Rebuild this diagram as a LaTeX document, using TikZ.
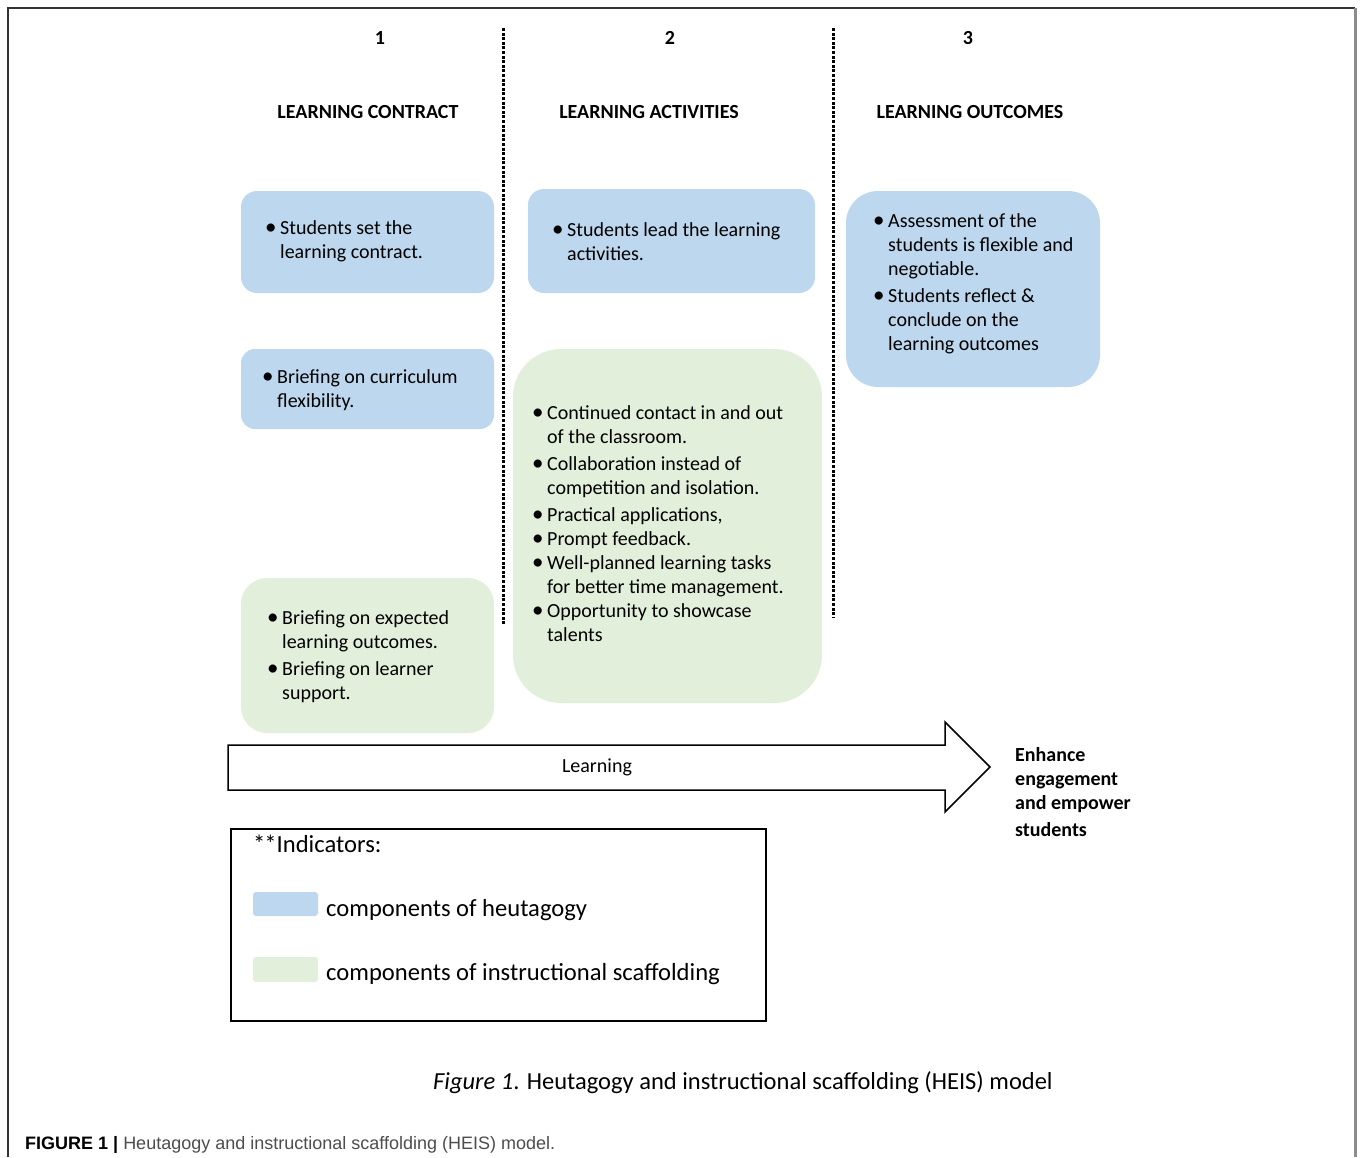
\documentclass[tikz,border=0pt]{standalone}
\usepackage{fontspec}
\setmainfont{Carlito}
\newfontfamily\capfont{Liberation Sans}
\definecolor{heutblue}{HTML}{BDD7EE}
\definecolor{scafgreen}{HTML}{E2EFDA}
\definecolor{capgray}{HTML}{4D4D4D}
\newcommand{\bodyfont}{\fontsize{20}{24}\selectfont}
\newcommand{\bul}{\smash{\raisebox{-0.8pt}{\fontsize{23}{24}\selectfont\textbullet}}}

\begin{document}
\begin{tikzpicture}[x=1pt,y=-1pt,
  hbox/.style={fill=heutblue,inner sep=0pt},
  sbox/.style={fill=scafgreen,inner sep=0pt},
  txt/.style={anchor=base west,inner sep=0pt,font=\bodyfont},
  head/.style={inner sep=0pt,font=\fontsize{20}{24}\selectfont\bfseries},
  divider/.style={line width=3pt,dash pattern=on 3pt off 1.6pt},
  legtxt/.style={anchor=base west,inner sep=0pt,font=\fontsize{24.6}{28}\selectfont}]

  \useasboundingbox (0,0) rectangle (1360,1157);

  \draw[line width=1.2pt,black!80] (8,1157) -- (8,8) -- (1355,8);
  \draw[line width=2.5pt,black!45] (1355.5,8) -- (1355.5,1157);

  \node[head] (n1) at (380,38) {1};
  \node[head] (n2) at (670,38) {2};
  \node[head] (n3) at (968,38) {3};
  \node[head] (h1) at (368,112) {LEARNING CONTRACT};
  \node[head] (h2) at (649,112) {LEARNING ACTIVITIES};
  \node[head] (h3) at (970,112) {LEARNING OUTCOMES};

  \coordinate (s1a) at (503,28);
  \coordinate (s1b) at (503,625);
  \coordinate (s2a) at (833,28);
  \coordinate (s2b) at (833,617);
  \draw[divider] (s1a) -- (s1b);
  \draw[divider] (s2a) -- (s2b);

  \node[hbox,rounded corners=16pt,minimum width=253pt,minimum height=102pt] (b1) at (367.5,242) {};
  \node[hbox,rounded corners=14pt,minimum width=253pt,minimum height=80pt] (b2) at (367.5,389) {};
  \node[sbox,rounded corners=26pt,minimum width=253pt,minimum height=155pt] (b3) at (367.5,655.5) {};
  \node[hbox,rounded corners=16pt,minimum width=287pt,minimum height=104pt] (b4) at (671.5,241) {};
  \node[sbox,rounded corners=48pt,minimum width=309pt,minimum height=354pt] (b5) at (667.5,526) {};
  \node[hbox,rounded corners=32pt,minimum width=254pt,minimum height=196pt] (b6) at (973,289) {};

  \node[txt] (t1) at (265,234) {\begin{tabular}[t]{@{}p{15pt}@{}l@{}}
    \bul & Students set the\\
         & learning contract.\end{tabular}};
  \node[txt] (t2) at (262,383) {\begin{tabular}[t]{@{}p{15pt}@{}l@{}}
    \bul & Briefing on curriculum\\
         & flexibility.\end{tabular}};
  \node[txt] (t3) at (267,624) {\begin{tabular}[t]{@{}p{15pt}@{}l@{}}
    \bul & Briefing on expected\\
         & learning outcomes.\\[3pt]
    \bul & Briefing on learner\\
         & support.\end{tabular}};
  \node[txt] (t4) at (552,236) {\begin{tabular}[t]{@{}p{15pt}@{}l@{}}
    \bul & Students lead the learning\\
         & activities.\end{tabular}};
  \node[txt] (t5) at (532,419) {\begin{tabular}[t]{@{}p{15pt}@{}l@{}}
    \bul & Continued contact in and out\\
         & of the classroom.\\[3pt]
    \bul & Collaboration instead of\\
         & competition and isolation.\\[3pt]
    \bul & Practical applications,\\
    \bul & Prompt feedback.\\
    \bul & Well-planned learning tasks\\
         & for better time management.\\
    \bul & Opportunity to showcase\\
         & talents\end{tabular}};
  \node[txt] (t6) at (873,227) {\begin{tabular}[t]{@{}p{15pt}@{}l@{}}
    \bul & Assessment of the\\
         & students is flexible and\\
         & negotiable.\\[3pt]
    \bul & Students reflect \&\\
         & conclude on the\\
         & learning outcomes\end{tabular}};

  \draw[line width=1.5pt,fill=white] (228,745) -- (945,745) -- (945,722) -- (990,767)
    -- (945,812) -- (945,790) -- (228,790) -- cycle;
  \node[inner sep=0pt,font=\bodyfont] (learn) at (597,767) {Learning};
  \node[txt,font=\bodyfont\bfseries] (goal) at (1015,761) {\begin{tabular}[t]{@{}l@{}}
    Enhance\\ engagement\\ and empower\\[3pt] students\end{tabular}};

  \node[draw,line width=1.6pt,inner sep=0pt,minimum width=535pt,minimum height=192pt] (leg) at (498.5,925) {};
  \node[legtxt] (ind) at (253,852) {*\kern-1pt*Indicators:};
  \node[hbox,rounded corners=3pt,minimum width=65pt,minimum height=24pt] (k1) at (285.5,904) {};
  \node[legtxt] (l1) at (326,916) {components of heutagogy};
  \node[sbox,rounded corners=3pt,minimum width=65pt,minimum height=25pt] (k2) at (285.5,969.5) {};
  \node[legtxt] (l2) at (326,980) {components of instructional scaffolding};

  \node[txt,font=\fontsize{24.5}{28}\selectfont] (cap) at (433,1089)
    {\textit{Figure 1}. Heutagogy and instructional scaffolding (HEIS) model};
  \node[txt,font=\capfont\fontsize{18}{21}\selectfont] (fig) at (25,1149)
    {\textbf{FIGURE 1 |} \textcolor{capgray}{Heutagogy and instructional scaffolding (HEIS) model.}};
\end{tikzpicture}
\end{document}
